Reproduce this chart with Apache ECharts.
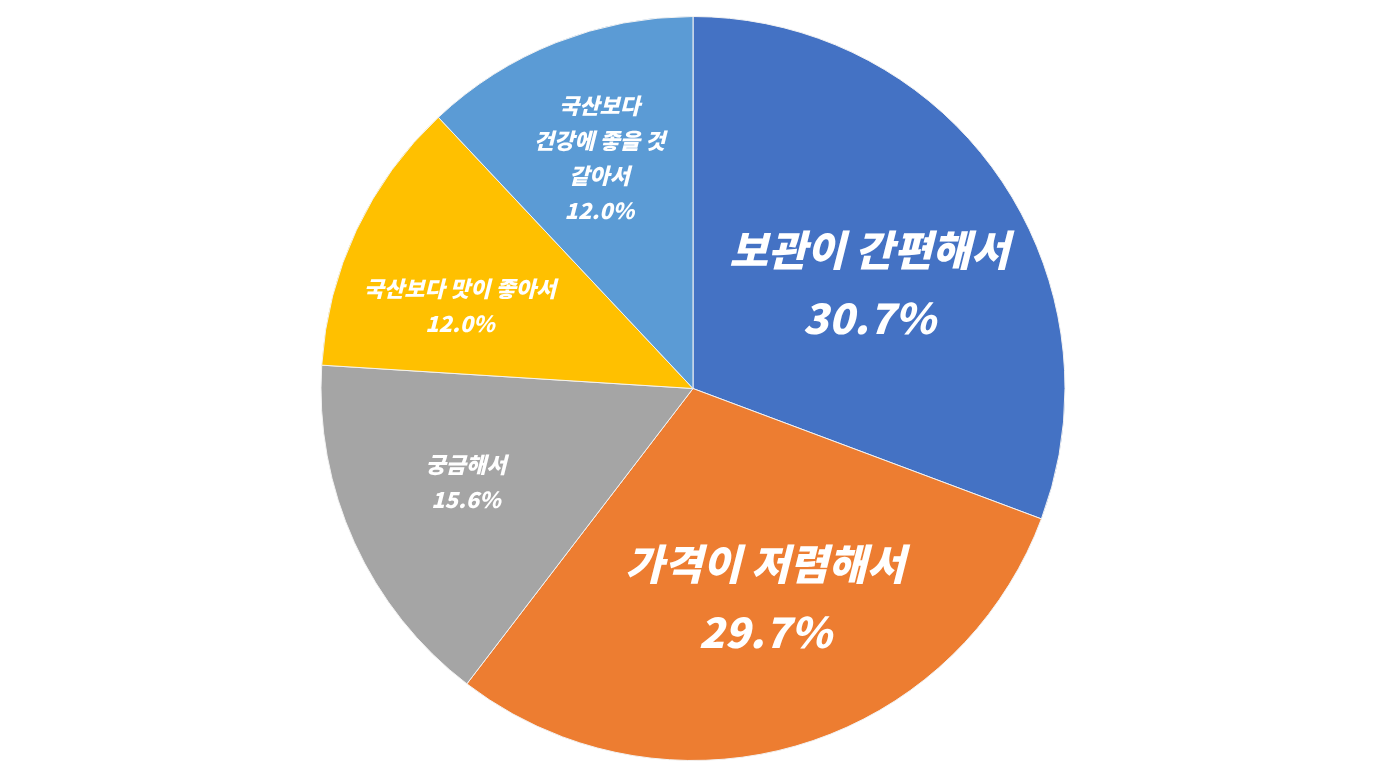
<!DOCTYPE html>
<html><head><meta charset="utf-8">
<script src="https://cdn.jsdelivr.net/npm/echarts@6/dist/echarts.min.js"></script>
<style>html,body{margin:0;padding:0;background:#fff}#c{width:1386px;height:777px}</style>
</head><body><div id="c"></div>
<script>
const categories = ['보관이 간편해서', '가격이 저렴해서', '궁금해서', '국산보다 맛이 좋아서', '국산보다\n건강에 좋을 것\n같아서'];
const values = [30.7, 29.7, 15.6, 12.0, 12.0];
const colors = ['#4472C4', '#ED7D31', '#A5A5A5', '#FFC000', '#5B9BD5'];
const bigLabel = [true, true, false, false, false];
const labelOffsets = [[21, 3], [20, 28], [-55, 15], [-62, -2], [-24, -55]];

const chart = echarts.init(document.getElementById('c'));
const data = categories.map((name, i) => ({
  name: name,
  value: values[i],
  itemStyle: { color: colors[i] },
  label: {
    offset: labelOffsets[i],
    fontSize: bigLabel[i] ? 42 : 22,
    lineHeight: bigLabel[i] ? 68 : 35
  }
}));
chart.setOption({
  animation: false,
  series: [{
    type: 'pie',
    center: ['50%', '50%'],
    radius: [0, 372],
    startAngle: 90,
    clockwise: true,
    data: data,
    itemStyle: { borderColor: '#f2f2f2', borderWidth: 1 },
    label: {
      show: true,
      position: 'inside',
      color: '#fff',
      fontFamily: 'Noto Sans CJK KR',
      fontWeight: 900,
      fontStyle: 'italic',
      align: 'center',
      formatter: p => p.name + '\n' + p.value.toFixed(1) + '%'
    },
    labelLine: { show: false },
    emphasis: { disabled: true }
  }]
});
</script></body></html>
